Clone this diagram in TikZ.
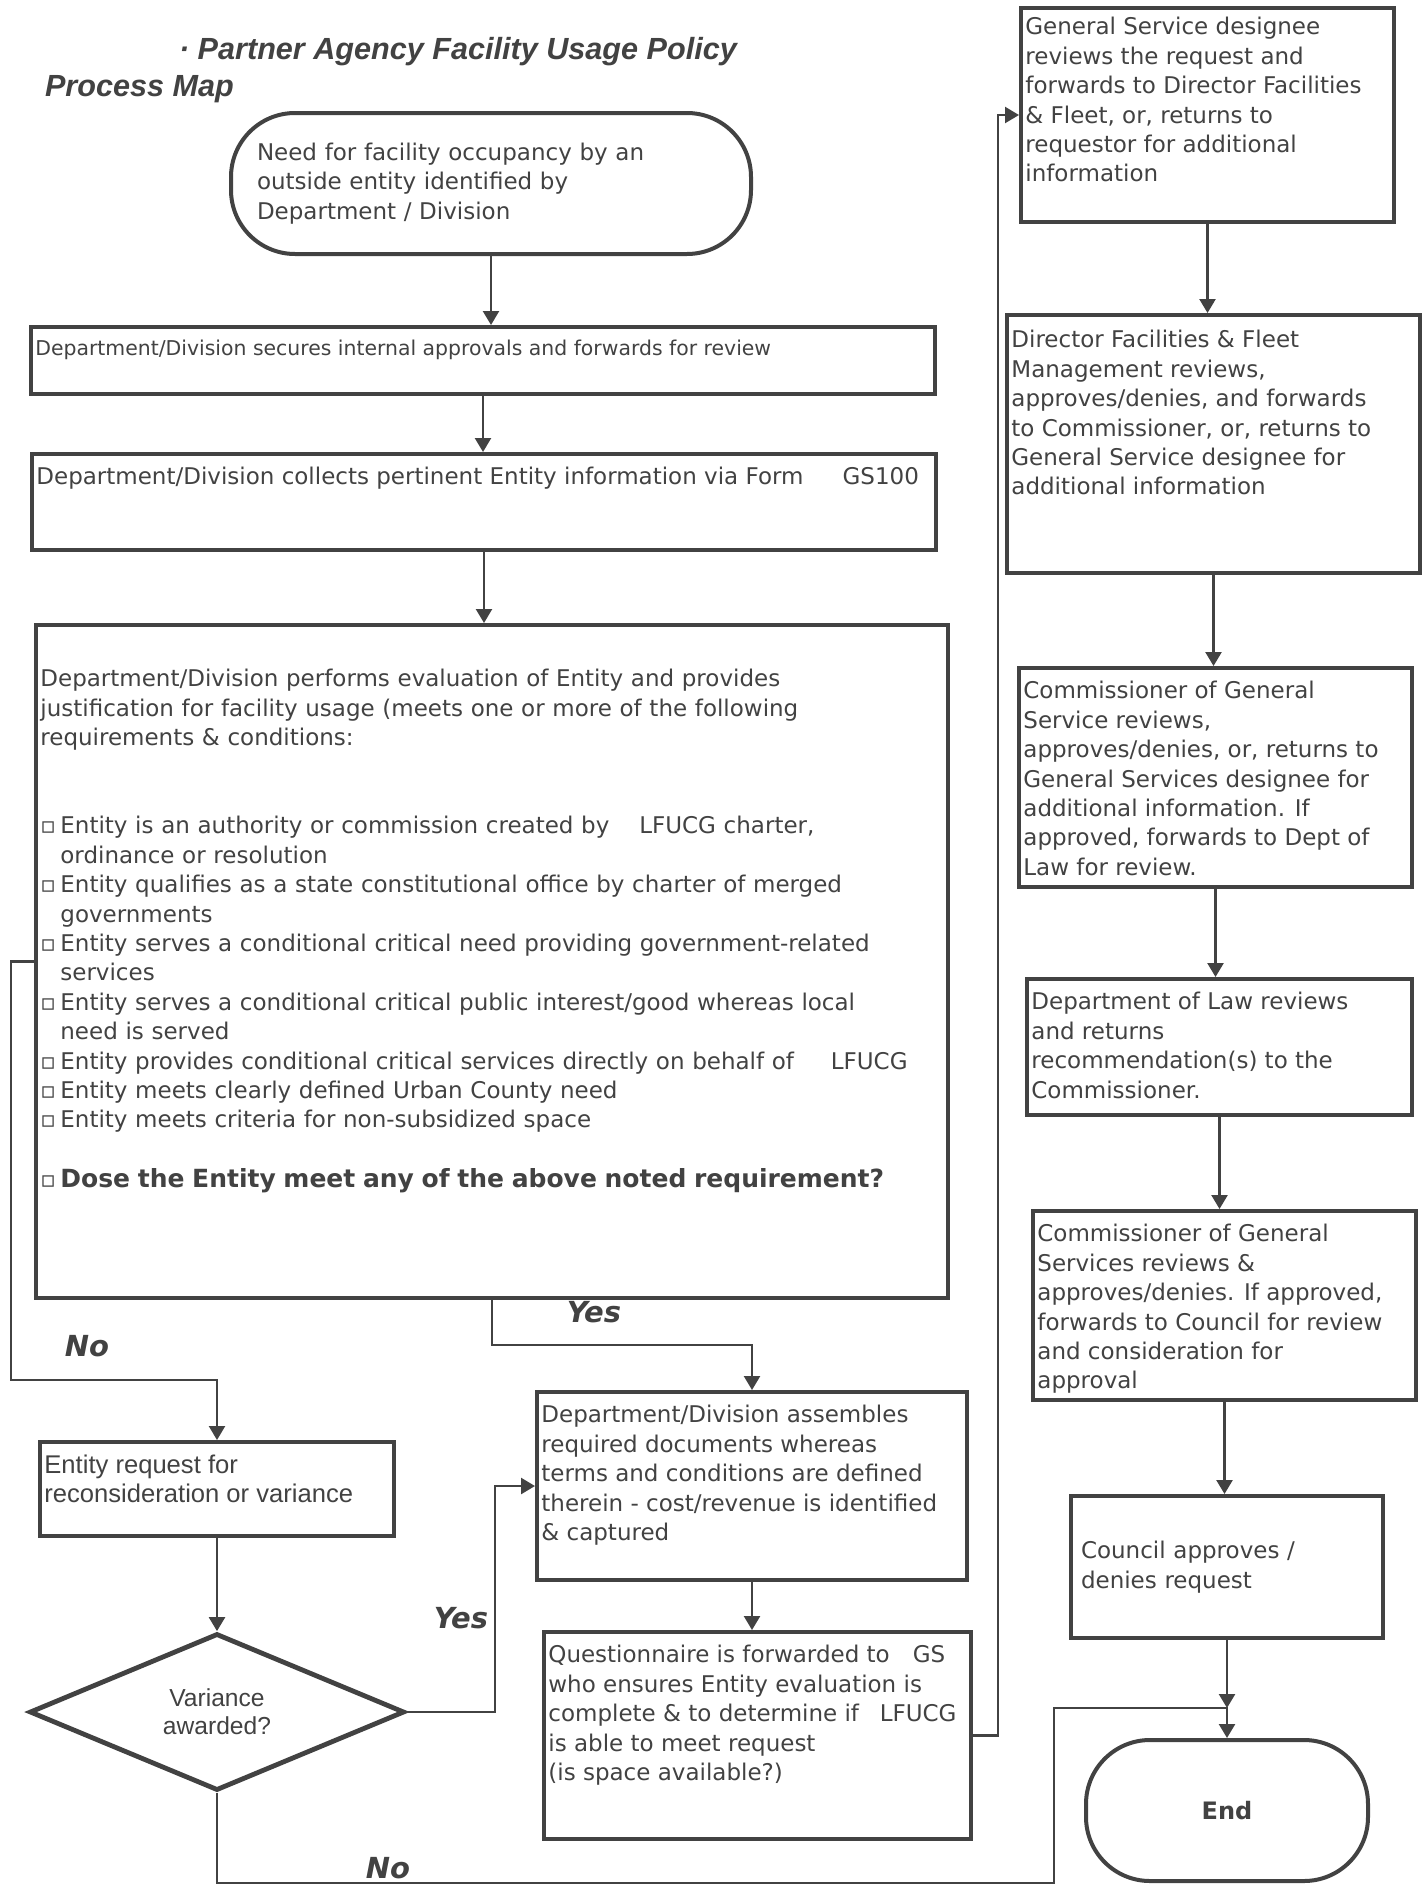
\documentclass[tikz,border=0pt]{standalone}
\usepackage{fontspec}
\setmainfont{DejaVu Sans}
\newfontfamily\arialfont{Liberation Sans}
\usetikzlibrary{arrows.meta,positioning,shapes.geometric,calc}
\definecolor{ink}{HTML}{424242}
\newcommand\body{\fontsize{11.5}{14.7}\selectfont}
\newcommand\chk[1]{\par\hangindent=10pt\hangafter=1\noindent\makebox[10pt][l]{▫}#1}

\begin{document}
\begin{tikzpicture}[x=0.5pt, y=-0.5pt,
    box/.style={draw=ink, line width=2pt, rectangle, inner sep=0pt},
    term/.style={box, rounded corners=32pt},
    txt/.style={anchor=north west, align=left, inner xsep=3pt, inner ysep=7.5pt, text=ink, font=\body},
    arr/.style={draw=ink, line width=1.2pt, -{Triangle[length=7pt,width=8pt]}},
    lbl/.style={text=ink, font=\fontsize{14.5}{16}\selectfont\bfseries\itshape}]
  \useasboundingbox[fill=white] (0,0) rectangle (1424,1885);

  % heading
  \node[anchor=west, text=ink, font=\arialfont\fontsize{15.3}{18}\selectfont\bfseries\itshape] (title) at (172,52) {· Partner Agency Facility Usage Policy};
  \node[anchor=west, text=ink, font=\arialfont\fontsize{15.3}{18}\selectfont\bfseries\itshape] (subtitle) at (38,89) {Process Map};

  % left and middle column
  \node[term, minimum width=260pt, minimum height=70.5pt, text width=234pt, inner xsep=13pt, align=left, text=ink, font=\body] (start) at (491,183.5)
    {Need for facility occupancy by an\\outside entity identified by\\Department / Division};
  \node[box, minimum width=452pt, minimum height=33.5pt] (sec) at (483,360.5) {};
  \node[txt, font=\fontsize{10.2}{12}\selectfont] (sec-t) at (sec.north west) {Department/Division secures internal approvals and forwards for review};
  \node[box, minimum width=452pt, minimum height=48pt] (col) at (484,502) {};
  \node[txt] (col-t) at (col.north west) {Department/Division collects pertinent Entity information via Form\hspace{1.7em}GS100};
  \node[box, minimum width=456pt, minimum height=336.5pt] (eval) at (492,961.5) {};
  \node[txt, text width=448pt, inner ysep=5pt, yshift=-18pt] (eval-t) at (eval.north west) {%
    Department/Division performs evaluation of Entity and provides\\
    justification for facility usage (meets one or more of the following\\
    requirements \& conditions:\par\vspace{29.4pt}
    \chk{Entity is an authority or commission created by\hspace{1.3em}LFUCG charter,\newline ordinance or resolution}
    \chk{Entity qualifies as a state constitutional office by charter of merged\newline governments}
    \chk{Entity serves a conditional critical need providing government-related\newline services}
    \chk{Entity serves a conditional critical public interest/good whereas local\newline need is served}
    \chk{Entity provides conditional critical services directly on behalf of\hspace{1.6em}LFUCG}
    \chk{Entity meets clearly defined Urban County need}
    \chk{Entity meets criteria for non-subsidized space}\par\vspace{15pt}
    \chk{\fontsize{12.5}{15}\selectfont\bfseries Dose the Entity meet any of the above noted requirement?}};

  \node[box, minimum width=177pt, minimum height=47pt] (var) at (217,1489) {};
  \node[txt, font=\arialfont\fontsize{12.8}{14.4}\selectfont] (var-t) at (var.north west) {Entity request for\\reconsideration or variance};
  \node[diamond, draw=ink, line width=2.4pt, minimum width=187.5pt, minimum height=78.5pt, inner sep=0pt, align=center, text=ink,
    font=\arialfont\fontsize{12.3}{14}\selectfont] (dec) at (217,1712) {Variance\\awarded?};
  \node[box, minimum width=215pt, minimum height=94pt] (asm) at (752,1486) {};
  \node[txt] (asm-t) at (asm.north west) {Department/Division assembles\\required documents whereas\\terms and conditions are defined\\therein - cost/revenue is identified\\\& captured};
  \node[box, minimum width=213.5pt, minimum height=103.5pt] (quest) at (757.5,1735.5) {};
  \node[txt] (quest-t) at (quest.north west) {Questionnaire is forwarded to\hspace{1em}GS\\who ensures Entity evaluation is\\complete \& to determine if\hspace{0.9em}LFUCG\\is able to meet request\\(is space available?)};

  % right column
  \node[box, minimum width=186.5pt, minimum height=107pt] (gsd) at (1207.5,115) {};
  \node[txt, inner ysep=5.5pt] (gsd-t) at (gsd.north west) {General Service designee\\reviews the request and\\forwards to Director Facilities\\\& Fleet, or, returns to\\requestor for additional\\information};
  \node[box, minimum width=206.5pt, minimum height=129pt] (dir) at (1213.5,444) {};
  \node[txt, inner ysep=8.5pt] (dir-t) at (dir.north west) {Director Facilities \& Fleet\\Management reviews,\\approves/denies, and forwards\\to Commissioner, or, returns to\\General Service designee for\\additional information};
  \node[box, minimum width=196.5pt, minimum height=109.5pt] (com) at (1215.5,777.5) {};
  \node[txt] (com-t) at (com.north west) {Commissioner of General\\Service reviews,\\approves/denies, or, returns to\\General Services designee for\\additional information. If\\approved, forwards to Dept of\\Law for review.};
  \node[box, minimum width=192.5pt, minimum height=68pt] (law) at (1219.5,1047) {};
  \node[txt] (law-t) at (law.north west) {Department of Law reviews\\and returns\\recommendation(s) to the\\Commissioner.};
  \node[box, minimum width=191.5pt, minimum height=94.5pt] (com2) at (1224.5,1305.5) {};
  \node[txt] (com2-t) at (com2.north west) {Commissioner of General\\Services reviews \&\\approves/denies. If approved,\\forwards to Council for review\\and consideration for\\approval};
  \node[box, minimum width=156pt, minimum height=71pt, text width=146pt, inner xsep=5pt, align=left, text=ink, font=\body] (cnc) at (1227,1567)
    {Council approves /\\denies request};
  \node[term, minimum width=141pt, minimum height=70.5pt, text=ink, font=\fontsize{12}{14}\selectfont\bfseries] (end) at (1227,1810.5) {End};

  % connectors
  \draw[arr] (start.south) -- (start.south |- sec.north);
  \draw[arr] (sec.south) -- (sec.south |- col.north);
  \draw[arr] (col.south) -- (col.south |- eval.north);
  \draw[arr] (eval.south) -- ++(0,45) -| (asm.north);
  \coordinate (nocorner) at (11,1380);
  \draw[arr] (eval.west) -| (nocorner) -| (var.north);
  \draw[arr] (var.south) -- (dec.north);
  \draw[arr] (dec.east) -- ++(88,0) |- (asm.west);
  \draw[arr] (asm.south) -- (asm.south |- quest.north);
  \draw[arr] (quest.east) -- ++(25,0) |- (gsd.west);
  \draw[arr] (gsd.south) -- (gsd.south |- dir.north);
  \draw[arr] (dir.south) -- (dir.south |- com.north);
  \draw[arr] (com.south) -- (com.south |- law.north);
  \draw[arr] (law.south) -- (law.south |- com2.north);
  \draw[arr] (com2.south) -- (com2.south |- cnc.north);
  \coordinate (merge) at ($(cnc.south)+(0,68)$);
  \coordinate (nobot) at (1054,1883);
  \draw[arr] (cnc.south) -- (merge);
  \draw[arr] (dec.south) |- (nobot) |- (merge) -- (end.north);

  % branch labels
  \node[lbl] (yes1) at (594,1312) {Yes};
  \node[lbl] (no1) at (87,1346) {No};
  \node[lbl] (yes2) at (461,1618) {Yes};
  \node[lbl, anchor=base, inner sep=0pt] (no2) at (388,1878) {No};
\end{tikzpicture}
\end{document}
